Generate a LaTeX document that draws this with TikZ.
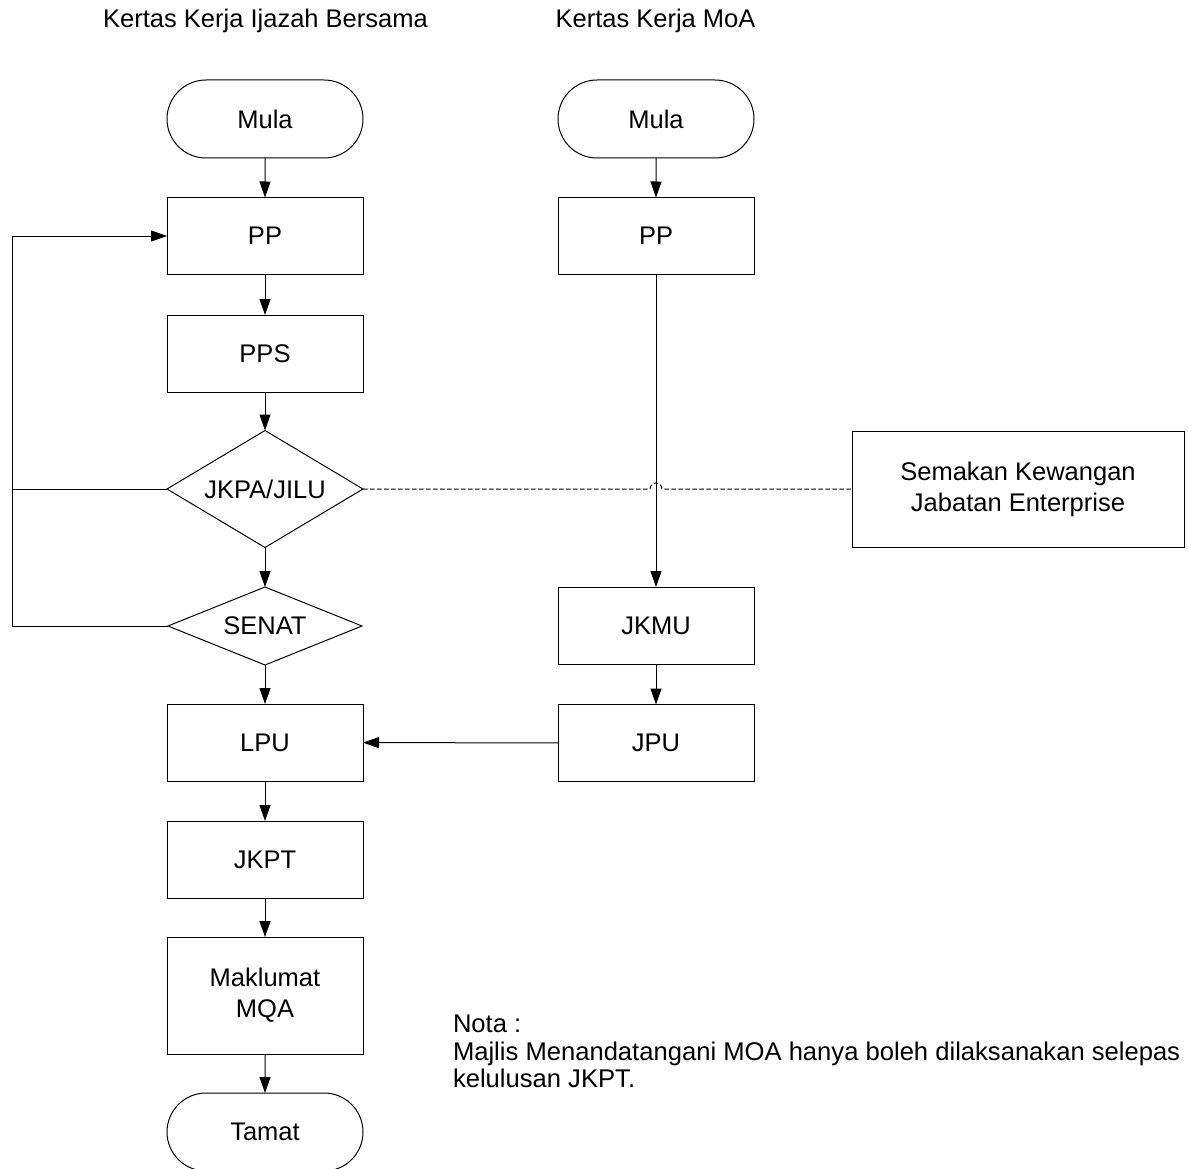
\documentclass[tikz,border=0pt]{standalone}
\usepackage{fontspec}
\setmainfont{Liberation Sans}
\usetikzlibrary{arrows.meta,shapes.geometric,shapes.misc}
\begin{document}
\begin{tikzpicture}[x=1pt,y=-1pt,
  font=\fontsize{25.5}{31}\selectfont,
  every node/.style={inner sep=0pt,outer sep=0pt},
  proc/.style={draw,line width=1pt,rectangle,minimum width=196pt,minimum height=77pt,align=center},
  term/.style={draw,line width=1pt,rounded rectangle,minimum width=196pt,minimum height=78pt},
  dec/.style={draw,line width=1pt,diamond,shape aspect=#1},
  conn/.style={line width=1pt},
  arr/.style={conn,-{Triangle[length=16pt,width=11pt]}},
  dsh/.style={line width=1pt,dash pattern=on 4.5pt off 2.5pt},
  note/.style={anchor=base west,font=\fontsize{25.6}{28}\selectfont}]
\useasboundingbox (0,0) rectangle (1188,1169);
% titles
\node[anchor=base] (t1) at (265.5,28) {Kertas Kerja Ijazah Bersama};
\node[anchor=base] (t2) at (655.5,28) {Kertas Kerja MoA};
% column 1
\node[term] (mula1) at (265,119) {Mula};
\node[proc] (pp1) at (265,236) {PP};
\node[proc] (pps) at (265,353.5) {PPS};
\node[dec=1.675,minimum width=196pt,minimum height=117pt] (jkpa) at (265,489) {JKPA/JILU};
\node[dec=2.5,minimum width=194pt,minimum height=78pt] (senat) at (265,626) {SENAT};
\node[proc] (lpu) at (265,742.5) {LPU};
\node[proc] (jkpt) at (265,859.5) {JKPT};
\node[proc,minimum height=117pt] (mqa) at (265,995.5) {Maklumat\\MQA};
\node[term] (tamat) at (265,1132) {Tamat};
% column 2
\node[term] (mula2) at (656,119) {Mula};
\node[proc] (pp2) at (656,236) {PP};
\node[proc] (jkmu) at (656,625.5) {JKMU};
\node[proc] (jpu) at (656,743) {JPU};
% side box
\node[proc,minimum width=332pt,minimum height=116pt] (sem) at (1018,489) {Semakan Kewangan\\Jabatan Enterprise};
% note
\node[note] (nota1) at (453,1032) {Nota :};
\node[note] (nota2) at (453,1060) {Majlis Menandatangani MOA hanya boleh dilaksanakan selepas};
\node[note] (nota3) at (453,1087.5) {kelulusan JKPT.};
% connectors column 1
\draw[arr] (mula1) -- (pp1);
\draw[arr] (pp1) -- (pps);
\draw[arr] (pps) -- (jkpa);
\draw[arr] (jkpa) -- (senat);
\draw[arr] (senat) -- (lpu);
\draw[arr] (lpu) -- (jkpt);
\draw[arr] (jkpt) -- (mqa);
\draw[arr] (mqa) -- (tamat);
% loop back
\coordinate (lp) at (12,626);
\draw[arr] (senat.west) -- (lp) |- (pp1.west);
\draw[conn] (jkpa.west) -- (jkpa.west -| lp);
% column 2
\draw[arr] (mula2) -- (pp2);
\draw[arr] (pp2) -- (jkmu);
\draw[arr] (jkmu) -- (jpu);
\draw[arr] (jpu) -- (lpu);
% dashed link with hop
\coordinate (hop) at (pp2.south |- jkpa.east);
\draw[dsh] (jkpa.east) -- ([xshift=-6pt]hop) arc[start angle=180,end angle=0,radius=6pt] -- (sem.west);
\end{tikzpicture}
\end{document}
